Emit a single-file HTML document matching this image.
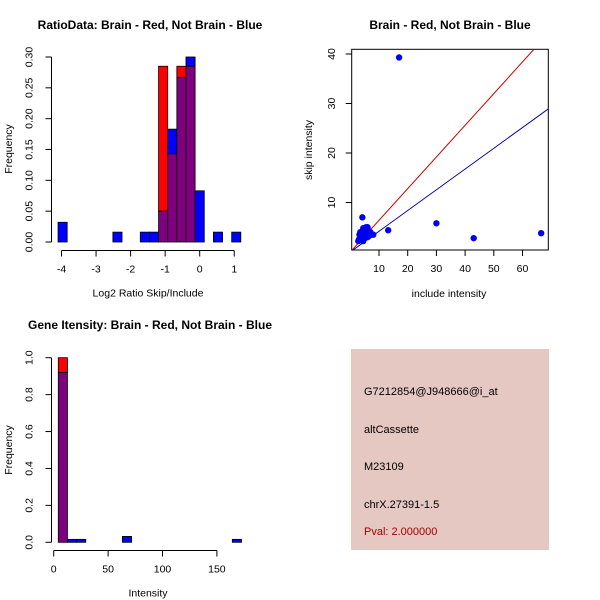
<!DOCTYPE html>
<html><head><meta charset="utf-8"><style>
body{margin:0;background:#fff}
svg{display:block;font-family:"Liberation Sans",Arial,sans-serif}
</style></head><body>
<svg width="600" height="600" viewBox="0 0 600 600">
<rect width="600" height="600" fill="#fff"/>
<g id="p1"></g>
<g id="p2"></g>
<g id="p3"></g>
<g>
<rect x="351" y="349" width="198" height="201" fill="#e6c8c2"/>
<g font-size="11" fill="#000">
<text x="364" y="395">G7212854@J948666@i_at</text>
<text x="364" y="433">altCassette</text>
<text x="364" y="470">M23109</text>
<text x="364" y="508">chrX.27391-1.5</text>
<text x="364" y="535" fill="#a00000">Pval: 2.000000</text>
</g></g>
</svg>
<script>
// ---- Plot 1 data ----
const ratioBinStart=-4.1, ratioBinWidth=0.2645;
const ratioRed=[0,0,0,0,0,0,0,0,0,0,0,0.285,0.143,0.285,0.285,0,0,0,0,0];
const ratioBlue=[0.032,0,0,0,0,0,0.016,0,0,0.016,0.016,0.05,0.183,0.267,0.30,0.083,0,0.016,0,0.016];
const ratioXTicks=[-4,-3,-2,-1,0,1];
const ratioYTicks=[0,0.05,0.10,0.15,0.20,0.25,0.30];
const ratioYLabels=["0.00","0.05","0.10","0.15","0.20","0.25","0.30"];
// ---- Plot 3 data ----
const intBinStart=4.2, intBinWidth=8.42;
const intRed=[1.0,0,0,0,0,0,0,0,0,0,0,0,0,0,0,0,0,0,0,0];
const intBlue=[0.92,0.016,0.016,0,0,0,0,0.032,0,0,0,0,0,0,0,0,0,0,0,0.016];
const intXTicks=[0,50,100,150];
const intYTicks=[0,0.2,0.4,0.6,0.8,1.0];
const intYLabels=["0.0","0.2","0.4","0.6","0.8","1.0"];
// ---- Plot 2 data ----
const includeVals=[17,30,43,66.5,13.2,4.2,3,3.5,4,4.5,5,5.5,6,4,5,6,7,8,4.5,5,6,3.5,4.5,5,7,6.5,3.2,3.8,4.8,5.2,2.8,6.2];
const skipVals=[39.3,5.8,2.8,3.8,4.4,7,2.5,3,3.5,4,4.5,5,5,2.5,3,3.5,3.5,3.5,2.2,2.8,3,4,4.8,3.8,4,3.2,3.5,2.9,3.3,4.2,2.2,4.4];
const redSlope=0.64, blueSlope=0.419;
const scXTicks=[10,20,30,40,50,60];
const scYTicks=[10,20,30,40];

const NS="http://www.w3.org/2000/svg";
const FS=10.5;
function mk(parent,tag,attrs,txt){const e=document.createElementNS(NS,tag);for(const k in attrs)e.setAttribute(k,attrs[k]);if(txt!==undefined)e.textContent=txt;parent.appendChild(e);return e;}

function hist(g,o){
  const sx=v=>o.x0+(v-o.xv0)*o.kx, sy=v=>o.y0-v*o.ky;
  for(let i=0;i<o.red.length;i++){
    const r=o.red[i], b=o.blue[i]; if(r===0&&b===0)continue;
    const l=sx(o.bs+i*o.bw), w=o.bw*o.kx, m=Math.min(r,b), M=Math.max(r,b);
    if(M>m){const e=mk(g,'rect',{x:l,y:sy(M),width:w,height:sy(m)-sy(M),fill:r>b?'#ff0000':'#0000ff',stroke:'#000','stroke-width':0.8});
      
      }
    if(m>0){const e=mk(g,'rect',{x:l,y:sy(m),width:w,height:sy(0)-sy(m),fill:'#7f007f',stroke:'#000','stroke-width':0.8});
      
      }
  }
  axes(g,sx,sy,o);
}
function axes(g,sx,sy,o){
  const xa=mk(g,'g',{});
  
  
  mk(xa,'line',{x1:sx(o.xt[0]),x2:sx(o.xt[o.xt.length-1]),y1:o.xaY,y2:o.xaY,stroke:'#000'});
  o.xt.forEach(t=>{mk(xa,'line',{x1:sx(t),x2:sx(t),y1:o.xaY,y2:o.xaY+6,stroke:'#000'});
    const e=mk(xa,'text',{x:sx(t),y:o.xaY+22,'font-size':FS,'text-anchor':'middle'},String(t));
    
    });
  const ya=mk(g,'g',{});
  
  
  mk(ya,'line',{x1:o.yaX,x2:o.yaX,y1:sy(o.yt[0]),y2:sy(o.yt[o.yt.length-1]),stroke:'#000'});
  o.yt.forEach((t,i)=>{mk(ya,'line',{x1:o.yaX,x2:o.yaX-6,y1:sy(t),y2:sy(t),stroke:'#000'});
    const e=mk(ya,'text',{x:0,y:0,'font-size':FS,'text-anchor':'middle',transform:`translate(${o.yaX-19},${sy(t)}) rotate(-90)`},o.yl?o.yl[i]:String(t));
    
    });
  const ti=mk(g,'text',{x:o.tx,y:o.ty,'font-size':12,'font-weight':'bold','text-anchor':'middle'},o.title);
  
  
  const xl=mk(g,'text',{x:o.xlx,y:o.xaY+46,'font-size':FS,'text-anchor':'middle'},o.xlab);
  
  
  const yl=mk(g,'text',{x:0,y:0,'font-size':FS,'text-anchor':'middle',transform:`translate(${o.ylx},${o.yly}) rotate(-90)`},o.ylab);
  
  
}
hist(document.getElementById('p1'),{x0:61.5,xv0:-4,kx:34.55,y0:242,ky:616.7,bs:ratioBinStart,bw:ratioBinWidth,red:ratioRed,blue:ratioBlue,
  xt:ratioXTicks,yt:ratioYTicks,yl:ratioYLabels,xaY:250.5,yaX:51.5,title:'RatioData: Brain - Red, Not Brain - Blue',tx:150,ty:29,
  xlab:'Log2 Ratio Skip/Include',xlx:148,ylab:'Frequency',ylx:12,yly:149});
hist(document.getElementById('p3'),{x0:53.7,xv0:0,kx:1.088,y0:542.3,ky:184.6,bs:intBinStart,bw:intBinWidth,red:intRed,blue:intBlue,
  xt:intXTicks,yt:intYTicks,yl:intYLabels,xaY:550.5,yaX:51.5,title:'Gene Itensity: Brain - Red, Not Brain - Blue',tx:150,ty:329,
  xlab:'Intensity',xlx:148,ylab:'Frequency',ylx:12,yly:450});

// scatter
(function(){
  const g=document.getElementById('p2');
  const sx=v=>350.3+v*2.87, sy=v=>252-v*4.95;
  const clip=mk(g,'clipPath',{id:'c2'});mk(clip,'rect',{x:351.7,y:49.3,width:196.6,height:200.7});
  const fr=mk(g,'rect',{x:351.7,y:49.3,width:196.6,height:200.7,fill:'none',stroke:'#000'});
  
  
  const lg=mk(g,'g',{'clip-path':'url(#c2)'});
  const rl=mk(lg,'line',{x1:sx(0),y1:sy(0),x2:sx(80),y2:sy(80*redSlope),stroke:'#cc0000','stroke-width':1});
  
  
  const bl=mk(lg,'line',{x1:sx(0),y1:sy(0),x2:sx(80),y2:sy(80*blueSlope),stroke:'#0000aa','stroke-width':1});
  
  
  includeVals.forEach((v,i)=>{const c=mk(g,'circle',{cx:sx(v),cy:sy(skipVals[i]),r:3.2,fill:'#0000ee'});
    
    });
  const xa=mk(g,'g',{});
  
  
  scXTicks.forEach(t=>{mk(xa,'line',{x1:sx(t),x2:sx(t),y1:250,y2:256,stroke:'#000'});
    const e=mk(xa,'text',{x:sx(t),y:272,'font-size':FS,'text-anchor':'middle'},String(t));
    
    });
  const ya=mk(g,'g',{});
  
  
  scYTicks.forEach(t=>{mk(ya,'line',{x1:351.7,x2:345.7,y1:sy(t),y2:sy(t),stroke:'#000'});
    const e=mk(ya,'text',{x:0,y:0,'font-size':FS,'text-anchor':'middle',transform:`translate(335,${sy(t)}) rotate(-90)`},String(t));
    
    });
  const ti=mk(g,'text',{x:450,y:29,'font-size':12,'font-weight':'bold','text-anchor':'middle'},'Brain - Red, Not Brain - Blue');
  
  
  const xl=mk(g,'text',{x:449,y:297,'font-size':FS,'text-anchor':'middle'},'include intensity');
  
  
  const yl=mk(g,'text',{x:0,y:0,'font-size':FS,'text-anchor':'middle',transform:'translate(312,150) rotate(-90)'},'skip intensity');
  
  
})();
</script>
</body></html>
